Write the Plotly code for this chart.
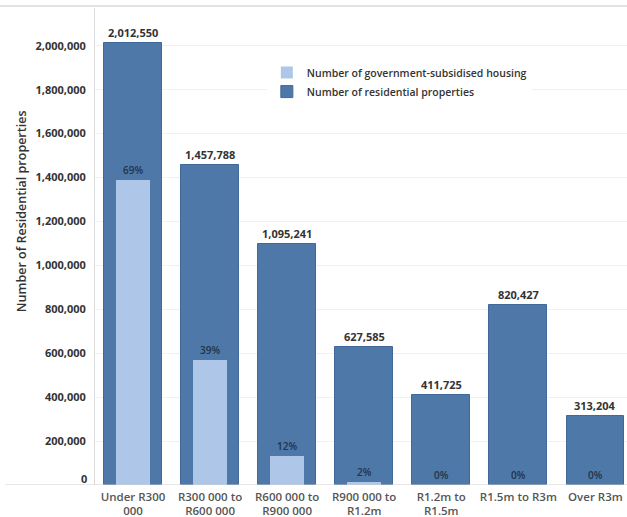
import plotly.graph_objects as go

# Price bands and counts
categories = ["Under R300<br>000", "R300 000 to<br>R600 000", "R600 000 to<br>R900 000",
              "R900 000 to<br>R1.2m", "R1.2m to<br>R1.5m", "R1.5m to R3m", "Over R3m"]
residential = [2012550, 1457788, 1095241, 627585, 411725, 820427, 313204]
subsidised = [1388660, 568537, 131429, 12552, 0, 0, 0]

y_ticks = [200000, 400000, 600000, 800000, 1000000, 1200000, 1400000, 1600000, 1800000, 2000000]

DARK = "#4d78a8"
LIGHT = "#aec7e8"
TEXT = "#333333"
FONT = "Open Sans"

x = list(range(len(categories)))

fig = go.Figure()
fig.add_trace(go.Bar(
    x=x, y=residential, width=0.75, name="Number of residential properties",
    marker=dict(color=DARK, line=dict(color="#40699a", width=1)),
    hoverinfo="skip",
))
fig.add_trace(go.Bar(
    x=x, y=subsidised, width=0.44, name="Number of government-subsidised housing",
    marker=dict(color=LIGHT, line=dict(width=0)),
    hoverinfo="skip",
))

annotations = []
for i, (tot, sub) in enumerate(zip(residential, subsidised)):
    annotations.append(dict(
        x=i, y=tot, xref="x", yref="y", text=f"<b>{tot:,}</b>", showarrow=False,
        yanchor="bottom", yshift=1, font=dict(family=FONT, size=11, color=TEXT),
    ))
    pct = round(100 * sub / tot)
    annotations.append(dict(
        x=i, y=sub, xref="x", yref="y", text=f"{pct}%", showarrow=False,
        yanchor="bottom", yshift=1,
        font=dict(family=FONT, size=10, color="#22334a", weight=600),
    ))

# zero label sits slightly above the baseline
annotations.append(dict(
    x=0, y=0, xref="paper", yref="y", text="<b>0</b>", showarrow=False,
    xanchor="right", xshift=-6, yshift=7, font=dict(family=FONT, size=11, color=TEXT),
))
# axis title
annotations.append(dict(
    x=0, y=0.574, xref="paper", yref="paper", text="Number of Residential properties",
    showarrow=False, textangle=-90, xshift=-74, xanchor="center", yanchor="middle",
    font=dict(family=FONT, size=12.5, color=TEXT, weight=600),
))

shapes = [
    dict(type="line", xref="paper", yref="paper", x0=-0.2, x1=1.0, y0=1.004, y1=1.004,
         line=dict(color="#e2e2e2", width=2)),
    dict(type="line", xref="paper", yref="y", x0=-0.169, x1=1.0, y0=0, y1=0,
         line=dict(color="#cfcfcf", width=1)),
]

fig.update_layout(
    width=627, height=517,
    margin=dict(l=95, r=0, t=8, b=32),
    paper_bgcolor="white", plot_bgcolor="white",
    barmode="overlay",
    bargap=0,
    showlegend=True,
    legend=dict(
        x=0.323, y=0.895, xanchor="left", yanchor="top",
        traceorder="reversed", bgcolor="white",
        font=dict(family=FONT, size=10.5, color=TEXT, weight=600),
        itemwidth=30, tracegroupgap=0,
    ),
    xaxis=dict(
        range=[-0.493, 6.41], tickvals=x, ticktext=categories,
        showgrid=False, zeroline=False, showline=False, ticks="",
        ticklabelstandoff=3,
        tickfont=dict(family=FONT, size=11.5, color="#555555", weight=600),
        fixedrange=True,
    ),
    yaxis=dict(
        range=[0, 2172000], tickvals=y_ticks, tickformat=",",
        showgrid=True, gridcolor="#f1f1f1", gridwidth=1,
        zeroline=False, showline=True, linecolor="#dcdcdc", linewidth=1,
        ticks="", ticklabelstandoff=6,
        tickfont=dict(family=FONT, size=11, color=TEXT, weight=700),
        fixedrange=True,
    ),
    annotations=annotations,
    shapes=shapes,
)

fig.write_html("out.html")
